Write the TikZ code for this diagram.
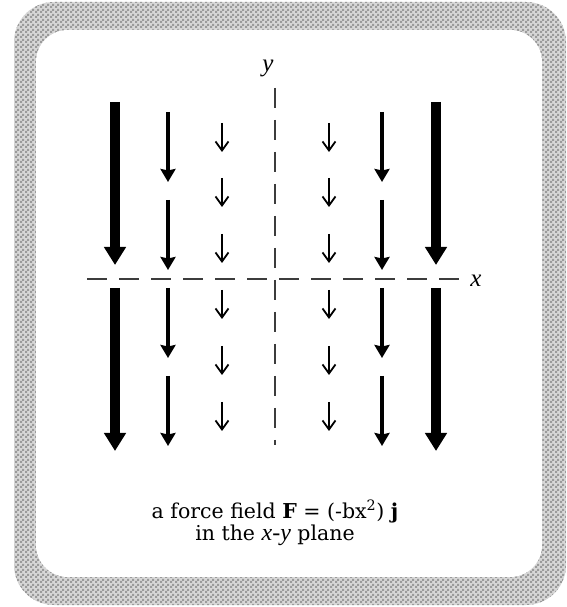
\documentclass[tikz,border=0pt]{standalone}
\usepackage{fontspec}
\setmainfont{DejaVu Serif}
\newfontfamily\axisfont{Liberation Serif}
\usepackage{xcolor}
\usepackage{tikz}
\usetikzlibrary{arrows.meta, patterns}
\definecolor{framegray}{RGB}{155, 155, 155}
\definecolor{framelight}{RGB}{215, 215, 215}
\definecolor{axisgray}{RGB}{60, 60, 60}

\pgfdeclarepatternformonly{finechecker}{\pgfpointorigin}{\pgfqpoint{5pt}{5pt}}
  {\pgfqpoint{5pt}{5pt}}
  {\pgfpathrectangle{\pgfpointorigin}{\pgfqpoint{2.5pt}{2.5pt}}
   \pgfpathrectangle{\pgfqpoint{2.5pt}{2.5pt}}{\pgfqpoint{2.5pt}{2.5pt}}
   \pgfusepath{fill}}

\tikzset{
  bigarrow/.style={line width=10pt, -{Triangle[length=18pt, width=21pt]}},
  midarrow/.style={line width=4.5pt, -{Stealth[length=13pt, width=15pt, inset=1.5pt]}},
  smallarrow/.style={line width=1.8pt, -{Straight Barb[length=9pt, width=13pt]}},
  axisline/.style={axisgray, line width=1.3pt, dash pattern=on 20pt off 12pt},
  axislabel/.style={font=\axisfont\itshape\fontsize{25}{25}\selectfont}
}

\begin{document}
\begin{tikzpicture}[x=10pt, y=10pt]
\useasboundingbox (0,0) rectangle (56.6,60.7);

% Frame
\fill[framelight, rounded corners=40pt] (1.4,0.2) rectangle (56.6,60.5);
\fill[pattern=finechecker, pattern color=framegray, rounded corners=40pt]
    (1.4,0.2) rectangle (56.6,60.5);
\fill[white, rounded corners=32pt] (3.6,3.0) rectangle (54.2,57.7);

% Axes
\draw[axisline] (8.7,32.8) -- (46.0,32.8);
\draw[axisline] (27.5,51.9) -- (27.5,16.2);
\node[axislabel] (xlabel) at (47.6,32.6) {x};
\node[axislabel] (ylabel) at (26.8,53.9) {y};

% Field arrows, strongest far from the y axis
\foreach \xx in {11.5, 43.6}
  \foreach \yy in {50.5, 31.9}
    \draw[bigarrow] (\xx,\yy) -- ++(0,-16.3);
\foreach \xx in {16.8, 38.2}
  \foreach \yy in {49.5, 40.7, 31.9, 23.1}
    \draw[midarrow] (\xx,\yy) -- ++(0,-7.0);
\foreach \xx in {22.2, 32.9}
  \foreach \yy in {48.4, 42.9, 37.3, 31.7, 26.1, 20.5}
    \draw[smallarrow] (\xx,\yy) -- ++(0,-2.9);

% Caption
\node[font=\fontsize{20.5}{22}\selectfont, align=center] (caption) at (27.5,8.4)
    {a force field \textbf{F} = (-bx\textsuperscript{2}) \textbf{j}\\
     in the {\axisfont\itshape\fontsize{24}{22}\selectfont x-y} plane};

\end{tikzpicture}
\end{document}
